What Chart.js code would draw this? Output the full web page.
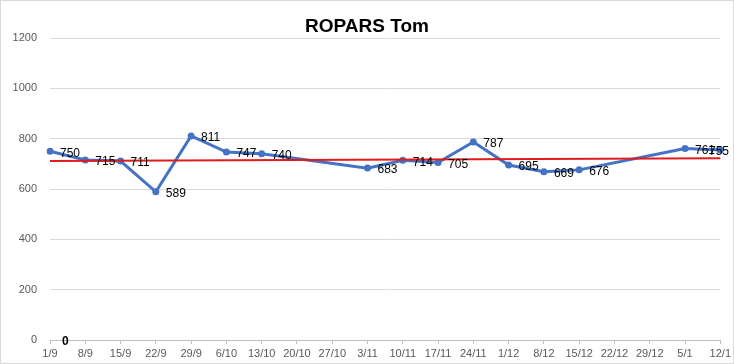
<!DOCTYPE html>
<html>
<head>
<meta charset="utf-8">
<script src="https://cdn.jsdelivr.net/npm/chart.js@4/dist/chart.umd.min.js"></script>
<style>
html,body{margin:0;padding:0;background:#fff;}
#wrap{width:734px;height:364px;position:relative;}
</style>
</head>
<body>
<div id="wrap"><canvas id="c" width="734" height="364"></canvas></div>
<script>
const chartTitle = "ROPARS Tom";
const categories = ["1/9","8/9","15/9","22/9","29/9","6/10","13/10","20/10","27/10","3/11","10/11","17/11","24/11","1/12","8/12","15/12","22/12","29/12","5/1","12/1"];
const scores = [750,715,711,589,811,747,740,null,null,683,714,705,787,695,669,676,null,null,761,755];
const trend = [711,null,null,null,null,null,null,null,null,null,null,null,null,null,null,null,null,null,null,722];
const zeroMarker = [0,null,null,null,null,null,null,null,null,null,null,null,null,null,null,null,null,null,null,null];
const yTicks = [0,200,400,600,800,1000,1200];

const decor = {
  id: 'decor',
  beforeDraw(chart) {
    const ctx = chart.ctx;
    ctx.save();
    ctx.fillStyle = '#fff';
    ctx.fillRect(0, 0, chart.width, chart.height);
    ctx.strokeStyle = '#d9d9d9';
    ctx.lineWidth = 1;
    ctx.strokeRect(0.5, 0.5, chart.width - 1, chart.height - 1);
    ctx.restore();
  },
  afterDraw(chart) {
    const ctx = chart.ctx;
    ctx.save();
    ctx.fillStyle = '#000';
    ctx.font = 'bold 19px "Liberation Sans", Arial, sans-serif';
    ctx.textAlign = 'center';
    ctx.textBaseline = 'middle';
    ctx.fillText(chartTitle, 367, 27);
    // data labels
    ctx.textAlign = 'left';
    ctx.font = '12px "Liberation Sans", Arial, sans-serif';
    const meta = chart.getDatasetMeta(0);
    meta.data.forEach((pt, i) => {
      if (scores[i] === null) return;
      const txt = String(scores[i]);
      const w = ctx.measureText(txt).width;
      let x = pt.x + 10;
      if (x + w > chart.width - 5) x = chart.width - 5 - w;
      ctx.fillText(txt, x, pt.y + 2);
    });
    const zmeta = chart.getDatasetMeta(2);
    ctx.font = 'bold 12px "Liberation Sans", Arial, sans-serif';
    zmeta.data.forEach((pt, i) => {
      if (zeroMarker[i] === null) return;
      ctx.fillText(String(zeroMarker[i]), pt.x + 12, pt.y + 2);
    });
    ctx.restore();
  }
};

new Chart(document.getElementById('c'), {
  type: 'line',
  data: {
    labels: categories,
    datasets: [
      {
        data: scores,
        borderColor: '#4472C4',
        backgroundColor: '#4472C4',
        borderWidth: 3,
        pointRadius: 3.5,
        pointBorderWidth: 0,
        pointHoverRadius: 3.5,
        spanGaps: true,
        tension: 0,
        order: 2
      },
      {
        data: trend,
        borderColor: '#e01b1b',
        borderWidth: 2,
        pointRadius: 0,
        spanGaps: true,
        tension: 0,
        order: 1
      },
      {
        data: zeroMarker,
        borderColor: 'rgba(0,0,0,0)',
        pointRadius: 0,
        showLine: false,
        order: 3
      }
    ]
  },
  options: {
    responsive: false,
    animation: false,
    events: [],
    layout: { padding: { top: 38, right: 13, bottom: 0, left: 0 } },
    plugins: { legend: { display: false }, title: { display: false }, tooltip: { enabled: false } },
    scales: {
      x: {
        offset: false,
        grid: { drawOnChartArea: false, drawTicks: true, tickLength: 4, color: '#bfbfbf' },
        border: { color: '#bfbfbf' },
        ticks: { color: '#595959', font: { size: 11, family: '"Liberation Sans", Arial, sans-serif' }, padding: 3, maxRotation: 0, autoSkip: false },
        afterFit(s) { s.height = 24; }
      },
      y: {
        min: 0, max: 1200,
        afterBuildTicks(s) { s.ticks = yTicks.map(v => ({ value: v })); },
        grid: { color: '#d9d9d9', drawTicks: false },
        border: { display: false },
        ticks: { color: '#595959', font: { size: 11, family: '"Liberation Sans", Arial, sans-serif' }, padding: 13, callback: v => String(v) },
        afterFit(s) { s.width = 50; }
      }
    }
  },
  plugins: [decor]
});
</script>
</body>
</html>
